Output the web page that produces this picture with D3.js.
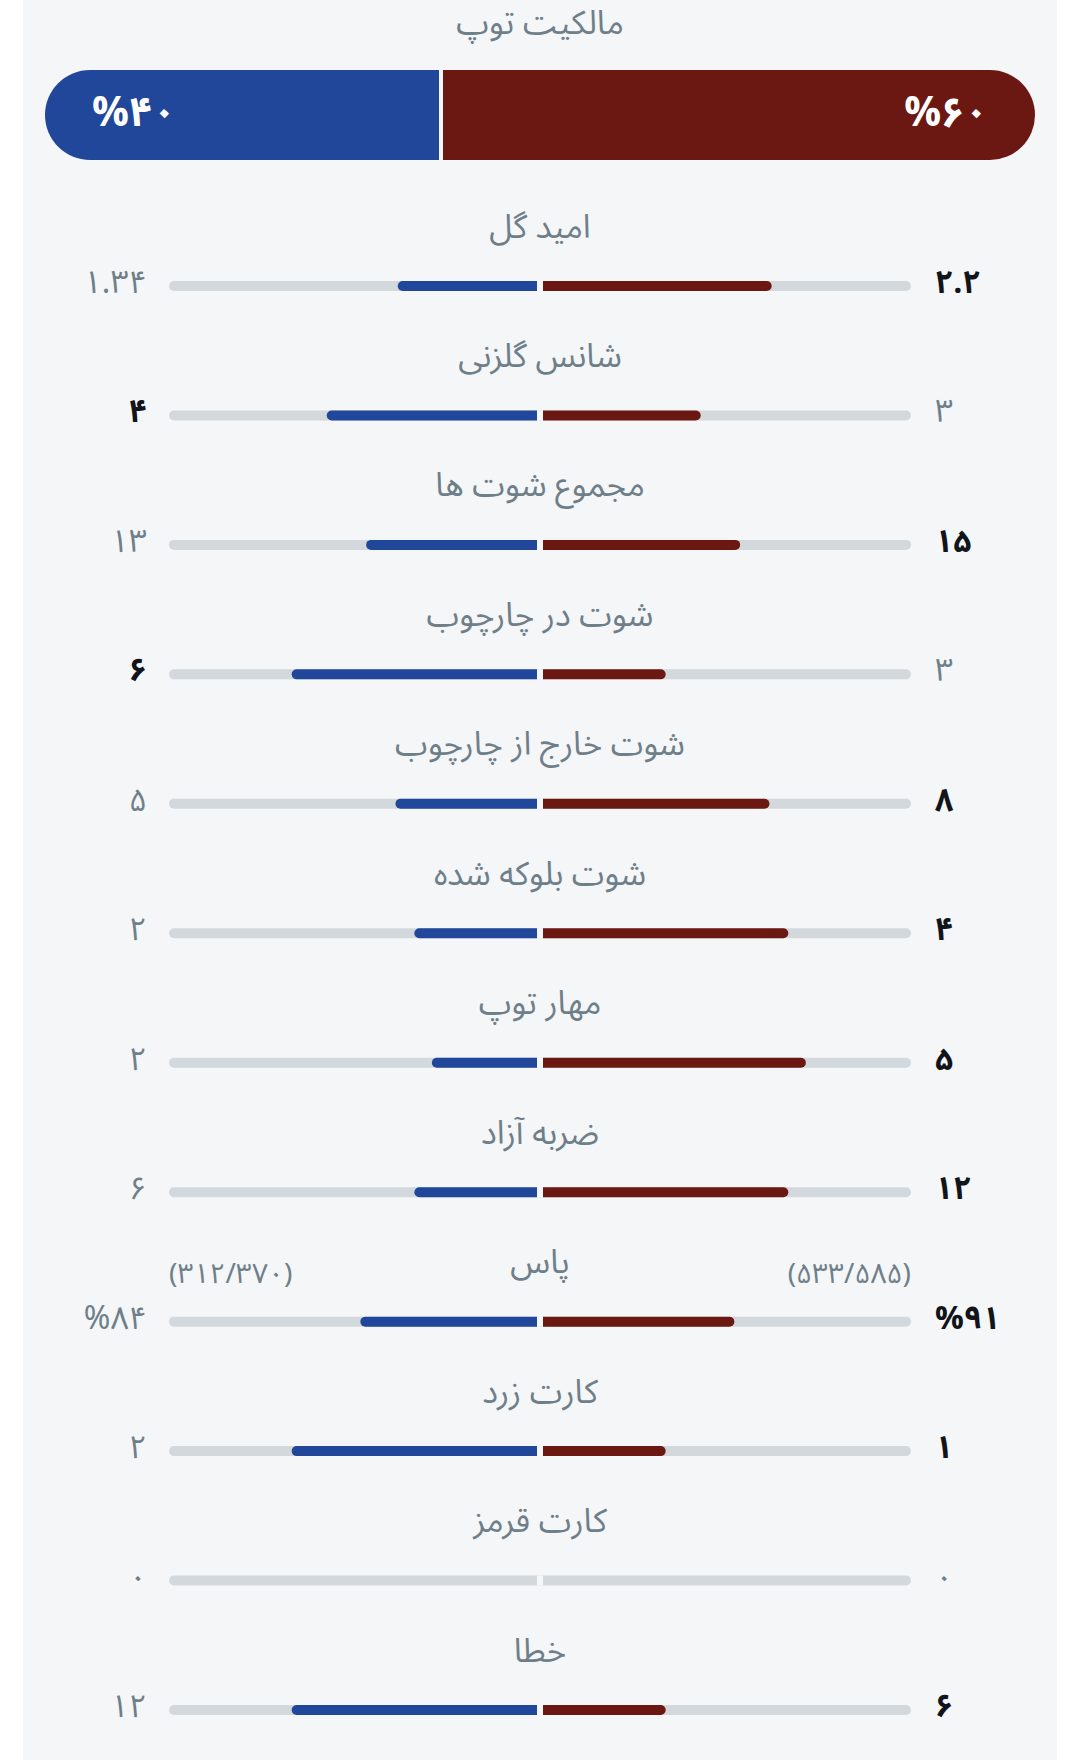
<!DOCTYPE html>
<html>
<head>
<meta charset="utf-8">
<script src="https://cdn.jsdelivr.net/npm/d3@7"></script>
<style>
  body { margin: 0; background: #ffffff; }
  svg text { font-family: "Noto Sans Arabic", Vazirmatn, "DejaVu Sans", sans-serif; }
</style>
</head>
<body>
<script>
//wrap everything in a self-executing function to keep it local
(function(){

//chart data
var possessionLabel = "مالکیت توپ";
var possession = [40, 60]; //away (blue, left), home (red, right)

var statLabels = ["امید گل", "شانس گلزنی", "مجموع شوت ها", "شوت در چارچوب", "شوت خارج از چارچوب",
    "شوت بلوکه شده", "مهار توپ", "ضربه آزاد", "پاس", "کارت زرد", "کارت قرمز", "خطا"];
var awayValues = [1.34, 4, 13, 6, 5, 2, 2, 6, 84, 2, 0, 12]; //blue, left
var homeValues = [2.2, 3, 15, 3, 8, 4, 5, 12, 91, 1, 0, 6];  //red, right
var lowerIsBetter = ["کارت زرد", "کارت قرمز", "خطا"];
var percentStats = ["پاس"];
var awayPasses = [312, 370];
var homePasses = [533, 585];

//colours
var blue = "#21479a",
    red = "#6b1812",
    track = "#d3d8dc",
    card = "#f4f6f8",
    grey = "#6f7f8a",
    ink = "#111418";

var width = 1080,
    height = 1760,
    cx = 540;

//western digits to persian digits
function toFa(s){
    return String(s).replace(/[0-9]/g, function(d){ return "۰۱۲۳۴۵۶۷۸۹"[+d]; });
}

var svg = d3.select("body")
    .append("svg")
    .attr("width", width)
    .attr("height", height);

//card background
svg.append("rect")
    .attr("x", 23)
    .attr("y", 0)
    .attr("width", 1034)
    .attr("height", height)
    .attr("fill", card);

drawPossession();
drawStats();

function drawPossession(){
    var x = d3.scaleLinear()
        .domain([0, 100])
        .range([45, 1035]);
    var top = 70, h = 90, r = 45, gap = 2;
    var split = x(possession[0]);

    svg.append("text")
        .attr("x", cx)
        .attr("y", 23)
        .attr("text-anchor", "middle")
        .attr("dominant-baseline", "central")
        .attr("fill", grey)
        .style("font-size", "33px")
        .text(possessionLabel);

    //blue part, round on the left
    var x0 = x(0), x1 = split - gap;
    svg.append("path")
        .attr("fill", blue)
        .attr("d", "M" + x1 + "," + top + "H" + (x0 + r) +
            "A" + r + "," + r + " 0 0 0 " + (x0 + r) + "," + (top + h) +
            "H" + x1 + "Z");

    //red part, round on the right
    var x2 = split + gap, x3 = x(100);
    svg.append("path")
        .attr("fill", red)
        .attr("d", "M" + x2 + "," + top + "H" + (x3 - r) +
            "A" + r + "," + r + " 0 0 1 " + (x3 - r) + "," + (top + h) +
            "H" + x2 + "Z");

    svg.append("text")
        .attr("x", 92)
        .attr("y", top + h / 2 - 2)
        .attr("dominant-baseline", "central")
        .attr("fill", "#ffffff")
        .style("font-size", "41px")
        .style("font-weight", "bold")
        .text("%" + toFa(possession[0]));

    svg.append("text")
        .attr("x", 988)
        .attr("y", top + h / 2 - 2)
        .attr("text-anchor", "end")
        .attr("dominant-baseline", "central")
        .attr("fill", "#ffffff")
        .style("font-size", "41px")
        .style("font-weight", "bold")
        .text("%" + toFa(possession[1]));
};

function drawStats(){
    var y = d3.scaleLinear()
        .domain([0, statLabels.length - 1])
        .range([286, 1710]);

    var trackL = 169, trackR = 911, gap = 3, barH = 10;
    //share of the half track
    var share = d3.scaleLinear()
        .domain([0, 1])
        .range([0, cx - trackL - gap]);

    var rows = svg.selectAll(".stat")
        .data(statLabels)
        .enter()
        .append("g")
        .attr("class", "stat")
        .attr("transform", function(d, i){ return "translate(0," + y(i) + ")"; });

    //grey track
    rows.append("rect")
        .attr("x", trackL)
        .attr("y", -barH / 2)
        .attr("width", trackR - trackL)
        .attr("height", barH)
        .attr("rx", barH / 2)
        .attr("fill", track);

    //white gap in the middle
    rows.append("rect")
        .attr("x", cx - gap)
        .attr("y", -barH / 2)
        .attr("width", gap * 2)
        .attr("height", barH)
        .attr("fill", card);

    rows.each(function(label, i){
        var g = d3.select(this);
        var a = awayValues[i], h = homeValues[i], sum = a + h;
        var r = barH / 2;

        if (sum > 0){
            var wa = share(a / sum), wh = share(h / sum);
            var xa = cx - gap, xh = cx + gap;
            if (wa > 0){
                g.append("path")
                    .attr("fill", blue)
                    .attr("d", "M" + xa + "," + (-r) + "H" + (xa - wa + r) +
                        "A" + r + "," + r + " 0 0 0 " + (xa - wa + r) + "," + r + "H" + xa + "Z");
            };
            if (wh > 0){
                g.append("path")
                    .attr("fill", red)
                    .attr("d", "M" + xh + "," + (-r) + "H" + (xh + wh - r) +
                        "A" + r + "," + r + " 0 0 1 " + (xh + wh - r) + "," + r + "H" + xh + "Z");
            };
        };

        //who wins the row
        var low = lowerIsBetter.indexOf(label) >= 0;
        var awayWins = a != h && (low ? a < h : a > h),
            homeWins = a != h && !awayWins;
        var pct = percentStats.indexOf(label) >= 0 ? "%" : "";

        g.append("text")
            .attr("x", cx)
            .attr("y", -59)
            .attr("text-anchor", "middle")
            .attr("dominant-baseline", "central")
            .attr("fill", grey)
            .style("font-size", "33px")
            .text(label);

        g.append("text")
            .attr("x", 147)
            .attr("y", -3)
            .attr("text-anchor", "end")
            .attr("dominant-baseline", "central")
            .attr("fill", awayWins ? ink : grey)
            .style("font-size", "32px")
            .style("font-weight", awayWins ? "bold" : "normal")
            .text(pct + toFa(a));

        g.append("text")
            .attr("x", 935)
            .attr("y", -3)
            .attr("dominant-baseline", "central")
            .attr("fill", homeWins ? ink : grey)
            .style("font-size", "32px")
            .style("font-weight", homeWins ? "bold" : "normal")
            .text(pct + toFa(h));

        //pass counts
        if (pct){
            g.append("text")
                .attr("x", trackL)
                .attr("y", -47)
                .attr("dominant-baseline", "central")
                .attr("fill", grey)
                .style("font-size", "28px")
                .text("(" + toFa(awayPasses[0]) + "/" + toFa(awayPasses[1]) + ")");
            g.append("text")
                .attr("x", trackR)
                .attr("y", -47)
                .attr("text-anchor", "end")
                .attr("dominant-baseline", "central")
                .attr("fill", grey)
                .style("font-size", "28px")
                .text("(" + toFa(homePasses[0]) + "/" + toFa(homePasses[1]) + ")");
        };
    });
};

})();
</script>
</body>
</html>
